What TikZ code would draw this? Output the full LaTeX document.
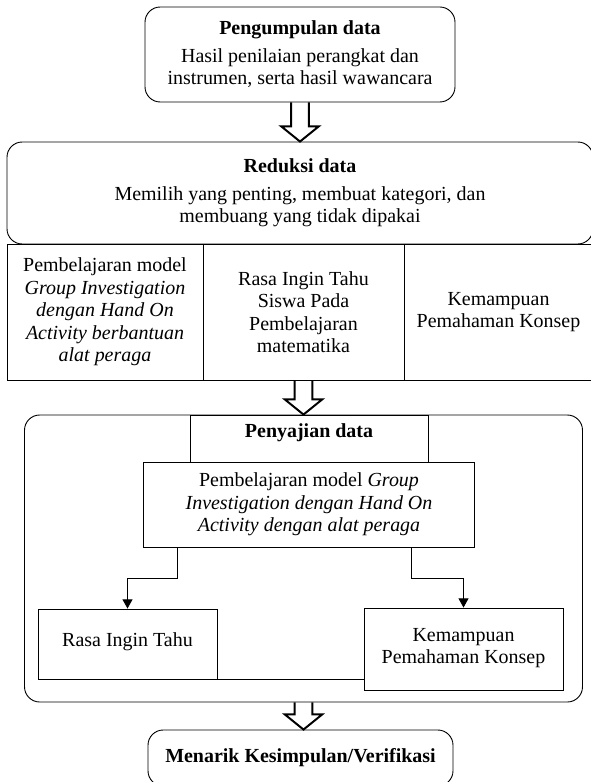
\documentclass[tikz,border=0pt]{standalone}
\usepackage{fontspec}
\setmainfont{Liberation Serif}
\usepackage{tikz}
\usetikzlibrary{shapes,arrows,arrows.meta,positioning,calc}

\begin{document}
\begin{tikzpicture}[node distance=2cm, auto,
    box/.style={rectangle, draw, line width=0.65pt, align=center, inner sep=0pt, font=\fontsize{14.2}{16}\selectfont},
    roundbox/.style={box, rounded corners=0.38cm},
    cell/.style={box, minimum height=3.4cm},
    blockarrow/.style={line width=1.4pt, line join=miter, to path={let \p1=(\tikztostart), \p2=(\tikztotarget) in
        (\x1-0.22cm,\y1) -- (\x1-0.22cm,\y2+0.38cm) -- (\x1-0.47cm,\y2+0.38cm) -- (\x1,\y2) -- (\x1+0.47cm,\y2+0.38cm) -- (\x1+0.22cm,\y2+0.38cm) -- (\x1+0.22cm,\y1)}},
    link/.style={line width=0.65pt, -{Triangle[length=0.23cm, width=0.25cm]}}]
    \useasboundingbox (0,0) rectangle (14.75,-19.55);

    % Nodes
    \node (pengumpulan) [roundbox, minimum width=7.75cm, minimum height=2.375cm] at (7.5,-1.3625) {\textbf{Pengumpulan data}\\[0.12cm] Hasil penilaian perangkat dan\\ instrumen, serta hasil wawancara};
    \node (reduksi) [roundbox, minimum width=14.65cm, minimum height=2.55cm, below of=pengumpulan, node distance=3.4625cm] {\textbf{Reduksi data}\\[0.12cm] Memilih yang penting, membuat kategori, dan\\ membuang yang tidak dipakai};
    \node (model) [cell, minimum width=4.9cm, below of=reduksi, node distance=2.975cm, xshift=-4.875cm] {Pembelajaran model\\ \textit{Group Investigation}\\ \textit{dengan Hand On}\\ \textit{Activity berbantuan}\\ \textit{alat peraga}};
    \node (rasaingin) [cell, minimum width=5.025cm, right of=model, node distance=4.9625cm] {Rasa Ingin Tahu\\ Siswa Pada\\ Pembelajaran\\ matematika};
    \node (pemahaman) [cell, minimum width=4.725cm, right of=rasaingin, node distance=4.875cm] {Kemampuan\\ Pemahaman Konsep};
    \node (penyajian) [roundbox, minimum width=13.95cm, minimum height=7.175cm, below of=rasaingin, node distance=6.1625cm] {};
    \node (penyajiantitle) [box, minimum width=5.95cm, minimum height=1.175cm, text depth=0.38cm, below of=rasaingin, node distance=3.1625cm, xshift=0.1375cm] {\textbf{Penyajian data}};
    \node (modelbantu) [box, minimum width=8.275cm, minimum height=2.125cm, below of=penyajiantitle, node distance=1.65cm] {Pembelajaran model \textit{Group}\\ \textit{Investigation dengan Hand On}\\ \textit{Activity dengan alat peraga}};
    \node (rasa) [box, minimum width=4.475cm, minimum height=1.75cm, text depth=0.23cm, below of=modelbantu, node distance=3.4875cm, xshift=-4.5375cm] {Rasa Ingin Tahu};
    \node (konsep) [box, minimum width=4.975cm, minimum height=2.05cm, text depth=0.15cm, below of=modelbantu, node distance=3.6125cm, xshift=3.8625cm] {Kemampuan\\ Pemahaman Konsep};
    \node (kesimpulan) [roundbox, minimum width=7.625cm, minimum height=1.4cm, below of=penyajian, node distance=4.9875cm, xshift=-0.075cm] {\textbf{Menarik Kesimpulan/Verifikasi}};

    % Edges
    \draw[blockarrow] (pengumpulan.south) to (reduksi.north);
    \draw[blockarrow] (rasaingin.south) to (penyajian.north);
    \draw[blockarrow] (penyajian.south) to (kesimpulan.north);
    \draw[link] ([xshift=-3.3cm]modelbantu.south) -- ++(0,-0.775cm) -| (rasa.north);
    \draw[link] ([xshift=2.55cm]modelbantu.south) -- ++(0,-0.775cm) -| (konsep.north);
    \draw[line width=0.65pt] (rasa.south east) -- (rasa.south east -| konsep.west);
\end{tikzpicture}
\end{document}
